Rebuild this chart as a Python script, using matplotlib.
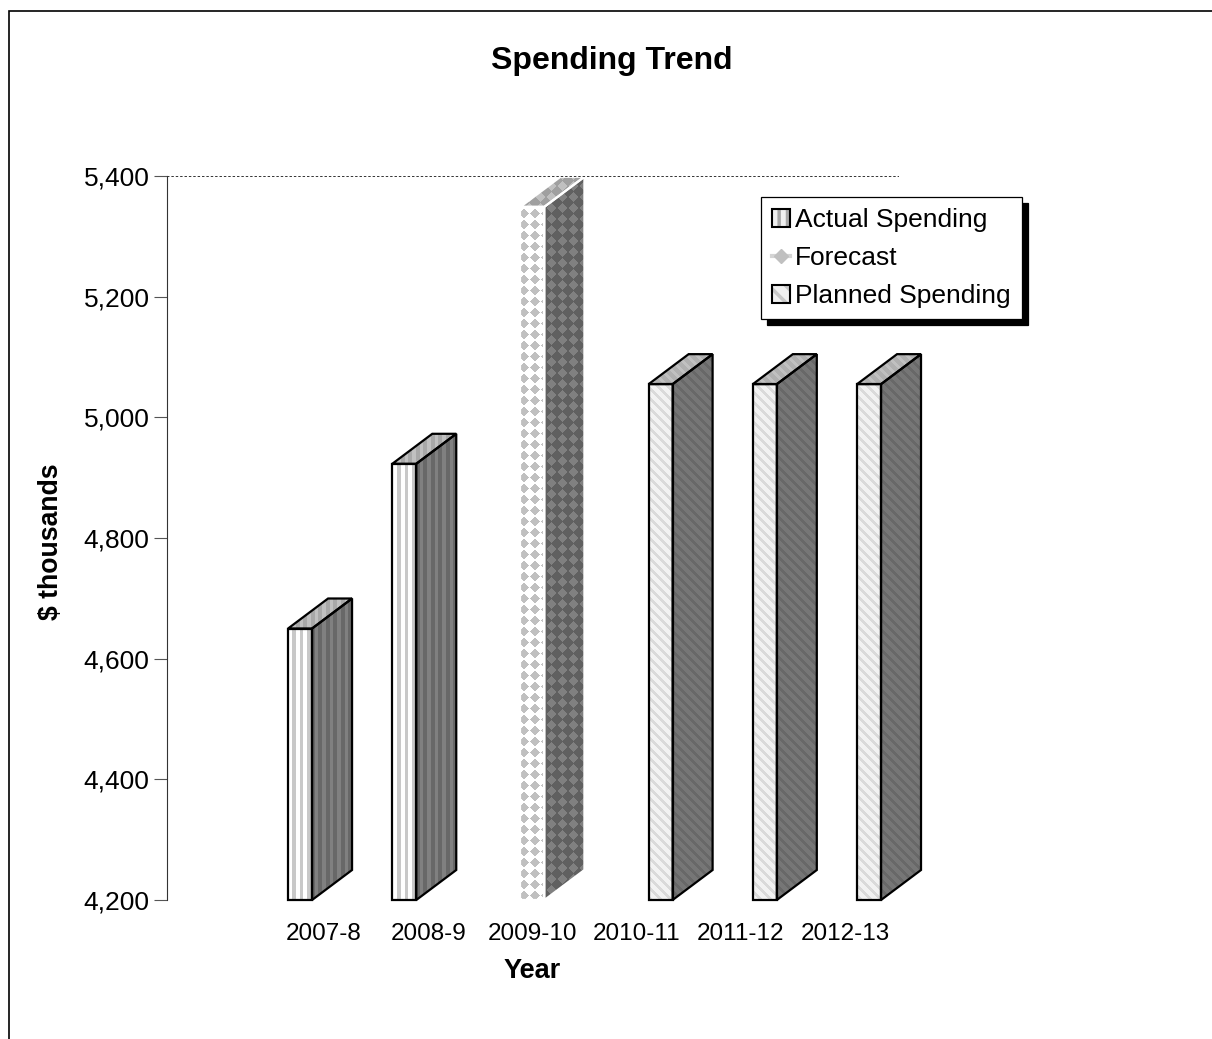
import numpy as np
from matplotlib import pyplot as plt
from matplotlib.legend_handler import HandlerTuple
from matplotlib.patches import Patch, Polygon, Rectangle
from matplotlib.lines import Line2D

plt.rcParams['font.family'] = ['Liberation Sans', 'DejaVu Sans']
plt.rcParams['hatch.linewidth'] = 2.5

years = ['2007-8', '2008-9', '2009-10', '2010-11', '2011-12', '2012-13']
actual = [4650, 4923, None, None, None, None]
forecast = [None, None, 5349, None, None, None]
planned = [None, None, None, 5055, 5055, 5055]
y_ticks = [4200, 4400, 4600, 4800, 5000, 5200, 5400]

W, H = 1212, 1039
LEFT, RIGHT, TOP, BOTTOM = 167, 898, 176, 900
BAR_W = 0.23        # category units
DEPTH_PX = (40, 30)

fig = plt.figure(figsize=(W / 100, H / 100), dpi=100)
ax = fig.add_axes([LEFT / W, 1 - BOTTOM / H, (RIGHT - LEFT) / W, (BOTTOM - TOP) / H])
xlim = (-1.507, 5.508)
ylim = (4200, 5400)
ax.set_xlim(xlim)
ax.set_ylim(ylim)


# %% Textures, worked out per screen pixel
def stripes(xp, yp, base, alt, r):
    return np.where((xp % 7.5) < 3.2, alt, base)


def diagonal(xp, yp, base, alt, r):
    return np.where(((xp - yp) % 10) < 4, alt, base)


def diamonds(xp, yp, base, alt, r):
    p = 11.0
    a = np.abs(((xp - 1.5 + p / 2) % p) - p / 2) + np.abs(((yp - 10 + p / 2) % p) - p / 2)
    return np.where(a < r, alt, base)


def textured_face(points, pattern, base, alt, r, edge, lw):
    poly = Polygon(points, closed=True, facecolor='none', edgecolor=edge, linewidth=lw,
                   joinstyle='miter', clip_on=False, zorder=3)
    ax.add_patch(poly)
    disp = ax.transData.transform(points)
    x0, y0 = np.floor(disp.min(axis=0)).astype(int)
    x1, y1 = np.ceil(disp.max(axis=0)).astype(int)
    xp, yp = np.meshgrid(np.arange(x0, x1) + 0.5, H - (np.arange(y1, y0, -1) - 0.5))
    img = pattern(xp, yp, base, alt, r)
    (dx0, dy0), (dx1, dy1) = ax.transData.inverted().transform([(x0, y0), (x1, y1)])
    im = ax.imshow(img, cmap='gray', vmin=0, vmax=255, extent=(dx0, dx1, dy0, dy1),
                   aspect='auto', interpolation='nearest', zorder=2)
    im.set_clip_box(fig.bbox)
    im.set_clip_path(poly)


def bar3d(x, value, pattern, shades, edge, lw):
    dx = DEPTH_PX[0] / ((RIGHT - LEFT) / (xlim[1] - xlim[0]))
    dy = DEPTH_PX[1] / ((BOTTOM - TOP) / (ylim[1] - ylim[0]))
    l, r = x - BAR_W / 2, x + BAR_W / 2
    base = ylim[0]
    side = [(r, base), (r + dx, base + dy), (r + dx, value + dy), (r, value)]
    top = [(l, value), (r, value), (r + dx, value + dy), (l + dx, value + dy)]
    front = [(l, base), (r, base), (r, value), (l, value)]
    textured_face(side, pattern, *shades['side'], edge, lw)
    textured_face(top, pattern, *shades['top'], edge, lw)
    textured_face(front, pattern, *shades['front'], edge, lw)


actual_shades = {'front': (255, 200, 0), 'side': (104, 128, 0), 'top': (168, 192, 0)}
forecast_shades = {'front': (192, 255, 6.5), 'side': (96, 128, 5), 'top': (160, 192, 5)}
planned_shades = {'front': (242, 218, 0), 'side': (118, 104, 0), 'top': (176, 192, 0)}

for i in range(len(years)):
    if actual[i] is not None:
        bar3d(i - BAR_W, actual[i], stripes, actual_shades, 'black', 1.6)
    if forecast[i] is not None:
        bar3d(i, forecast[i], diamonds, forecast_shades, 'white', 1.6)
    if planned[i] is not None:
        bar3d(i + BAR_W, planned[i], diagonal, planned_shades, 'black', 1.6)

ax.set_xlim(xlim)
ax.set_ylim(ylim)

# %% Axes
for s in ['right', 'bottom']:
    ax.spines[s].set_visible(False)
ax.spines['left'].set_color('#333333')
ax.spines['left'].set_linewidth(0.8)
ax.spines['top'].set_color('#333333')
ax.spines['top'].set_linewidth(0.7)
ax.spines['top'].set_linestyle((0, (1.5, 3)))
ax.spines['top'].set_zorder(6)

ax.set_xticks(range(len(years)))
ax.set_xticklabels(years)
ax.set_yticks(y_ticks)
ax.set_yticklabels([f'{v:,}' for v in y_ticks])
ax.tick_params(axis='x', length=0, pad=16.5, labelsize=17.5)
ax.tick_params(axis='y', length=9.5, width=0.8, color='#555555', pad=3, labelsize=19)
ax.set_xlabel('Year', fontweight='bold', fontsize=19.5, labelpad=9.6)
ax.set_ylabel('$ thousands', fontweight='bold', fontsize=19.2)
ax.yaxis.set_label_coords((64 - LEFT) / (RIGHT - LEFT), 0.495)
fig.text(612 / W, 1 - 61 / H, 'Spending Trend', ha='center', va='center',
         fontweight='bold', fontsize=23)

# %% Legend
outline = Patch(facecolor='none', edgecolor='black', linewidth=1.5)
handles = [
    (Patch(facecolor='#f0f0f0', edgecolor='#a8a8a8', hatch='||', linewidth=0), outline),
    Line2D([], [], color='#d4d4d4', linewidth=3, marker='D', markersize=7,
           markerfacecolor='#c0c0c0', markeredgecolor='#c0c0c0'),
    (Patch(facecolor='#f0f0f0', edgecolor='#c8c8c8', hatch='\\\\', linewidth=0), outline),
]
leg = ax.legend(handles, ['Actual Spending', 'Forecast', 'Planned Spending'],
                handler_map={tuple: HandlerTuple(ndivide=1, pad=0)},
                loc='upper left', bbox_to_anchor=(761 / W, 1 - 197 / H),
                bbox_transform=fig.transFigure, borderaxespad=0, fontsize=19,
                fancybox=False, framealpha=1, edgecolor='black',
                shadow={'color': 'black', 'alpha': 1, 'ox': 4.3, 'oy': -4.3},
                handlelength=0.68, handleheight=0.65, handletextpad=0.2,
                labelspacing=0.53, borderpad=0.42)
leg.get_frame().set_linewidth(0.9)
leg.set_zorder(5)

# outer frame: only its top and left edges fall inside the image
fig.add_artist(Rectangle((8.5 / W, -0.05), 1.05, 1.05 - 10.5 / H, fill=False,
                         edgecolor='black', linewidth=1.2, transform=fig.transFigure))

fig.savefig('out.png', dpi=100)
